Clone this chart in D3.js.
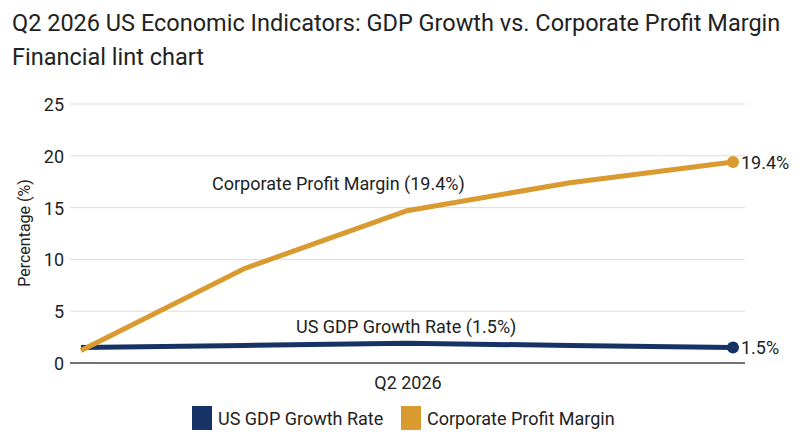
<!DOCTYPE html><html><head><meta charset="utf-8"><script src="https://cdn.jsdelivr.net/npm/d3@7"></script>
<style>body{margin:0;background:#fff}text{font-family:Roboto,sans-serif}</style></head><body><svg id="c" width="800" height="447"></svg>
<script>
const steps=[0,1,2,3,4];
const gdp=[1.5,1.7,1.9,1.7,1.5];
const profit=[1.2,9.1,14.7,17.4,19.4];
const yTicks=[0,5,10,15,20,25];
const svg=d3.select("#c");
const x=d3.scaleLinear().domain([0,4]).range([81,733]);
const y=d3.scaleLinear().domain([0,25]).range([363,104]);
svg.append("text").attr("x",12).attr("y",31).attr("font-size",23.5).attr("fill","#222").text("Q2 2026 US Economic Indicators: GDP Growth vs. Corporate Profit Margin");
svg.append("text").attr("x",12).attr("y",65).attr("font-size",23.5).attr("fill","#222").text("Financial lint chart");
yTicks.forEach(t=>{
 svg.append("line").attr("x1",70).attr("x2",745).attr("y1",y(t)).attr("y2",y(t)).attr("stroke",t===0?"#444":"#ddd").attr("stroke-width",t===0?1.5:1);
 svg.append("text").attr("x",64).attr("y",y(t)+7).attr("text-anchor","end").attr("font-size",18).attr("fill","#222").text(t);
});
svg.append("text").attr("transform","translate(30,233) rotate(-90)").attr("text-anchor","middle").attr("font-size",16).attr("fill","#222").text("Percentage (%)");
svg.append("text").attr("x",408).attr("y",389).attr("text-anchor","middle").attr("font-size",18).attr("fill","#222").text("Q2 2026");
const line=d3.line().x((d,i)=>x(steps[i])).y(d=>y(d));
svg.append("path").datum(gdp).attr("d",line).attr("fill","none").attr("stroke","#173366").attr("stroke-width",5);
svg.append("path").datum(profit).attr("d",line).attr("fill","none").attr("stroke","#d99a2f").attr("stroke-width",5);
svg.append("circle").attr("cx",x(4)).attr("cy",y(gdp[4])).attr("r",6).attr("fill","#173366");
svg.append("circle").attr("cx",x(4)).attr("cy",y(profit[4])).attr("r",6).attr("fill","#d99a2f");
svg.append("text").attr("x",741).attr("y",y(gdp[4])+7).attr("font-size",18).attr("fill","#222").text(gdp[4]+"%");
svg.append("text").attr("x",741).attr("y",y(profit[4])+7).attr("font-size",18).attr("fill","#222").text(profit[4]+"%");
svg.append("text").attr("x",212).attr("y",190).attr("font-size",18).attr("fill","#222").text("Corporate Profit Margin ("+profit[4]+"%)");
svg.append("text").attr("x",296).attr("y",333).attr("font-size",18).attr("fill","#222").text("US GDP Growth Rate ("+gdp[4]+"%)");
const leg=[["US GDP Growth Rate","#173366",192],["Corporate Profit Margin","#d99a2f",401]];
leg.forEach(l=>{svg.append("rect").attr("x",l[2]).attr("y",406).attr("width",20).attr("height",24).attr("fill",l[1]);
 svg.append("text").attr("x",l[2]+26).attr("y",425).attr("font-size",18).attr("fill","#222").text(l[0]);});
</script></body></html>
